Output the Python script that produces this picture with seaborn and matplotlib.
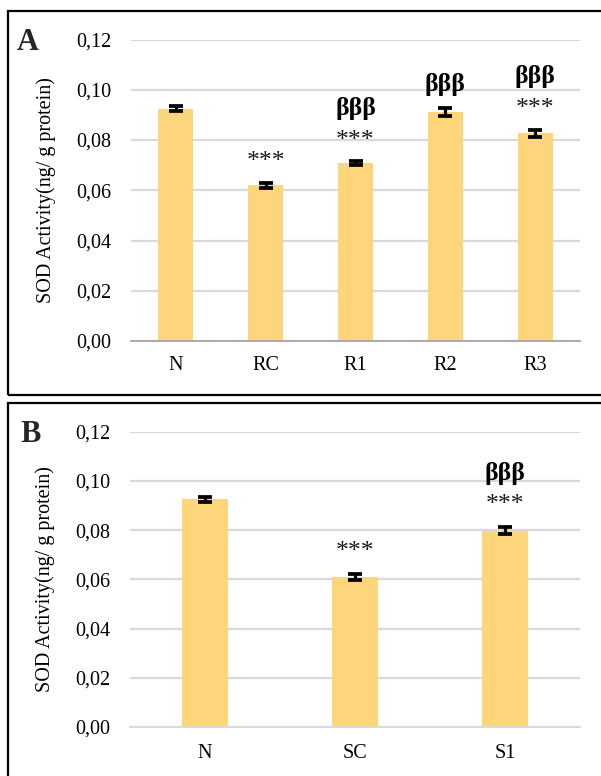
import matplotlib
matplotlib.use("Agg")
import matplotlib.pyplot as plt
from matplotlib.patches import Rectangle
from matplotlib.ticker import FuncFormatter
import seaborn as sns
import pandas as pd

# Panel A: SOD activity, R groups
groups_a = ["N", "RC", "R1", "R2", "R3"]
sod_a = [0.0925, 0.0619, 0.0708, 0.0911, 0.0826]
err_a = [0.0011, 0.0011, 0.0007, 0.0017, 0.0015]
stars_a = ["", "***", "***", "", "***"]
beta_a = ["", "", "βββ", "βββ", "βββ"]

# Panel B: SOD activity, S groups
groups_b = ["N", "SC", "S1"]
sod_b = [0.0925, 0.0610, 0.0798]
err_b = [0.0011, 0.0011, 0.0014]
stars_b = ["", "***", "***"]
beta_b = ["", "", "βββ"]

yticks = [0.00, 0.02, 0.04, 0.06, 0.08, 0.10, 0.12]
ylabel = "SOD Activity(ng/ g protein)"

BAR = "#FDD57B"
GRID = "#D9D9D9"

sns.set_theme(style="white")
plt.rcParams["font.family"] = ["Liberation Serif", "DejaVu Serif"]

W, H = 601, 776
fig = plt.figure(figsize=(W / 100, H / 100), dpi=100)


def px_axes(left, right, top, bottom):
    return fig.add_axes([left / W, 1 - bottom / H, (right - left) / W, (bottom - top) / H])


def panel(ax, groups, vals, errs, stars, betas, width, base_color, xpad, star_off, beta_off):
    df = pd.DataFrame({"group": groups, "value": vals})
    sns.barplot(data=df, x="group", y="value", color=BAR, width=width,
                saturation=1, ax=ax, errorbar=None, zorder=3)
    for p in ax.patches:
        p.set_edgecolor("none")
    xs = list(range(len(groups)))
    ax.errorbar(xs, vals, yerr=errs, fmt="none", ecolor="black",
                elinewidth=2.3, capsize=4.7, capthick=2.7, zorder=4)
    for x, v, e, s, b in zip(xs, vals, errs, stars, betas):
        if s:
            ax.annotate(s, (x, v + e), xytext=(0, star_off), textcoords="offset points",
                        ha="center", va="center", fontsize=18.5, color="#1a1a1a")
        if b:
            off = beta_off if s else star_off + 2
            ax.annotate(b, (x, v + e), xytext=(0, off), textcoords="offset points",
                        ha="center", va="center", fontsize=18.5, fontweight="bold",
                        color="black")
    ax.set_ylim(0, 0.12)
    ax.set_yticks(yticks)
    ax.yaxis.set_major_formatter(FuncFormatter(lambda v, _: f"{v:.2f}".replace(".", ",")))
    ax.set_xlim(-0.5, len(groups) - 0.5)
    ax.grid(axis="y", color=GRID, linewidth=1.6, zorder=0)
    ax.grid(axis="x", visible=False)
    for side in ["top", "right", "left"]:
        ax.spines[side].set_visible(False)
    ax.spines["bottom"].set_color(base_color)
    ax.spines["bottom"].set_linewidth(1.3)
    ax.spines["bottom"].set_zorder(5)
    ax.tick_params(axis="y", length=0, pad=14, labelsize=14.5, colors="black")
    ax.tick_params(axis="x", length=0, pad=xpad, labelsize=14.5, colors="black")
    ax.set_xlabel("")
    ax.set_ylabel(ylabel, fontsize=14.5, color="black")
    ax.yaxis.set_label_coords(-0.167, 0.5)
    ax.set_facecolor("none")


ax_a = px_axes(131, 580, 39.5, 341)
panel(ax_a, groups_a, sod_a, err_a, stars_a, beta_a, 0.39, "#A6A6A6", 11, 15, 38)

ax_b = px_axes(130, 580, 431.7, 727)
panel(ax_b, groups_b, sod_b, err_b, stars_b, beta_b, 0.31, GRID, 12, 16, 38.5)

# Panel frames and letters
fig.patches.append(Rectangle((8 / W, 1 - 395 / H), 620 / W, 384 / H, transform=fig.transFigure,
                             fill=False, edgecolor="black", linewidth=1.6, zorder=0))
fig.patches.append(Rectangle((8 / W, 1 - 800 / H), 620 / W, 397 / H, transform=fig.transFigure,
                             fill=False, edgecolor="black", linewidth=1.6, zorder=0))
fig.text(17 / W, 1 - 50 / H, "A", fontsize=22, fontweight="bold", ha="left", va="baseline")
fig.text(20 / W, 1 - 442 / H, "B", fontsize=22, fontweight="bold", ha="left", va="baseline")

fig.savefig("out.png", dpi=100, facecolor="white")
